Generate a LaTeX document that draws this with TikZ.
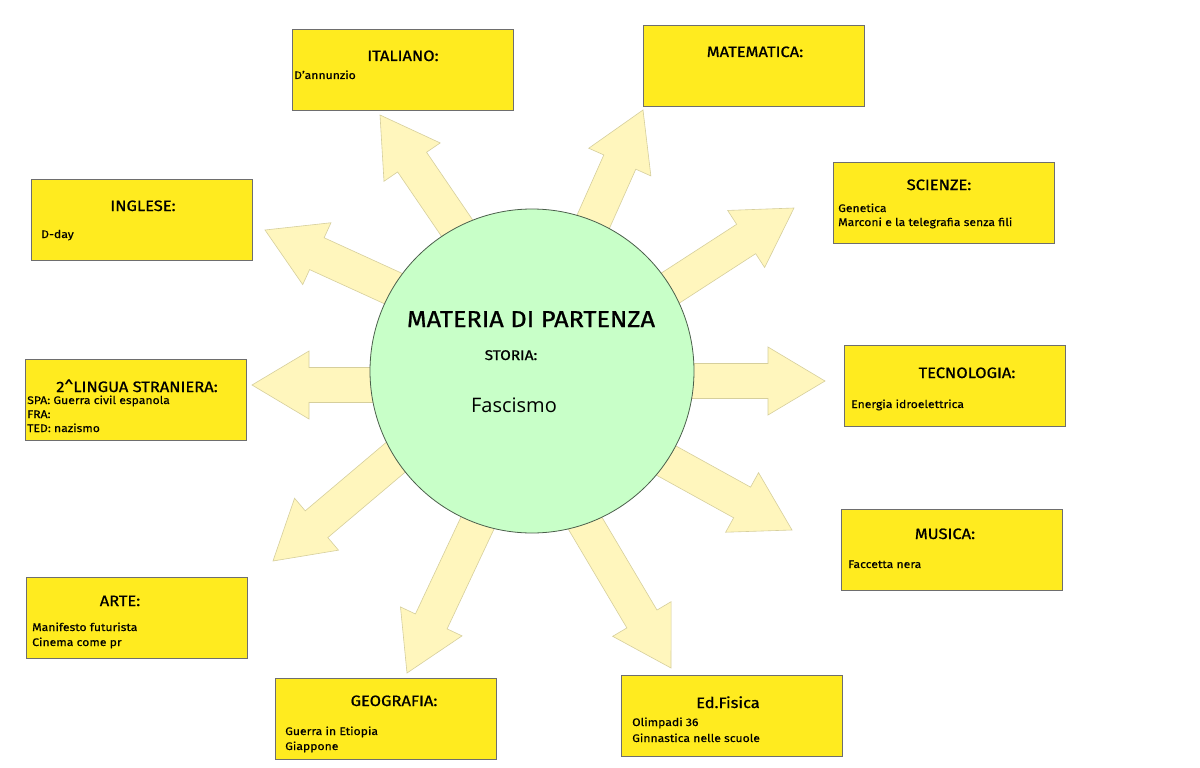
\documentclass[tikz,border=0pt]{standalone}
\usepackage{fontspec}
\setmainfont{Fira Sans}[FakeStretch=1.12, FakeBold=0.35]
\newfontfamily\titlefont{Fira Sans}[FakeStretch=1.1, FakeBold=0.9]
\newfontfamily\fascfont{Open Sans}
\usetikzlibrary{calc}
\definecolor{boxyellow}{HTML}{FFEB1F}
\definecolor{boxline}{HTML}{6E6E6E}
\definecolor{arrfill}{HTML}{FFF6BD}
\definecolor{arrline}{HTML}{D6CF9C}
\definecolor{circfill}{HTML}{C8FFC8}
\definecolor{circline}{HTML}{4A5E4A}
\tikzset{
  subjbox/.style={draw=boxline, line width=0.8pt, fill=boxyellow, minimum width=221pt, minimum height=81pt, anchor=north west, inner sep=0pt},
  titletxt/.style={font=\titlefont\fontsize{15}{17}\selectfont, anchor=base, inner sep=0pt},
  bodytxt/.style={font=\fontsize{10.9}{12}\selectfont, anchor=base west, inner sep=0pt},
  arrshape/.style={fill=arrfill, draw=arrline, line width=0.6pt, line join=miter},
}
\newcommand\blockarr[2]{%
  \coordinate (#1s) at ($(#1)!-30pt!(#2)$);
  \coordinate (#1h) at ($(#2)!57pt!(#1)$);
  \path[arrshape] ($(#1s)!17.5pt!90:(#2)$) -- ($(#1h)!17.5pt!90:(#2)$) -- ($(#1h)!34pt!90:(#2)$) -- (#2)
    -- ($(#1h)!34pt!-90:(#2)$) -- ($(#1h)!17.5pt!-90:(#2)$) -- ($(#1s)!17.5pt!-90:(#2)$) -- cycle;
}
\begin{document}
\begin{tikzpicture}[x=1pt,y=-1pt]
\useasboundingbox[fill=white] (0,0) rectangle (1200,768);

% arrow bases and tips
\coordinate (bIta) at (457,228); \coordinate (tIta) at (380,115);
\coordinate (bMat) at (594,220); \coordinate (tMat) at (643,110);
\coordinate (bSci) at (672,287); \coordinate (tSci) at (794,208);
\coordinate (bTec) at (692,381); \coordinate (tTec) at (825,381);
\coordinate (bMus) at (667,461); \coordinate (tMus) at (792,530);
\coordinate (bEdf) at (585,523); \coordinate (tEdf) at (671,668);
\coordinate (bGeo) at (478,522); \coordinate (tGeo) at (407,673);
\coordinate (bArt) at (396,457); \coordinate (tArt) at (273,561);
\coordinate (bLin) at (373,385); \coordinate (tLin) at (252,385);
\coordinate (bIng) at (392,288); \coordinate (tIng) at (265,230);

\blockarr{bIta}{tIta}
\blockarr{bMat}{tMat}
\blockarr{bSci}{tSci}
\blockarr{bTec}{tTec}
\blockarr{bMus}{tMus}
\blockarr{bEdf}{tEdf}
\blockarr{bGeo}{tGeo}
\blockarr{bArt}{tArt}
\blockarr{bLin}{tLin}
\blockarr{bIng}{tIng}

% central circle
\node[circle, draw=circline, line width=0.8pt, fill=circfill, minimum size=324pt, inner sep=0pt] (c) at (532,371) {};
\node[font=\titlefont\fontsize{23}{27}\selectfont, anchor=base, inner sep=0pt] (mat) at (531,327) {MATERIA DI PARTENZA};
\node[font=\titlefont\fontsize{14}{17}\selectfont, anchor=base, inner sep=0pt] (sto) at (511,360) {STORIA:};
\node[font=\fascfont\fontsize{20}{23}\selectfont, anchor=base, inner sep=0pt] (fas) at (514,412) {Fascismo};

% boxes
\node[subjbox] (ita) at (292,29) {};
\node[titletxt] (itaT) at (403,61) {ITALIANO:};
\node[bodytxt] (itaB) at (294,79) {D'annunzio};

\node[subjbox] (mtm) at (643,25) {};
\node[titletxt] (mtmT) at (755,57) {MATEMATICA:};

\node[subjbox] (sci) at (833,162) {};
\node[titletxt] (sciT) at (939,190) {SCIENZE:};
\node[bodytxt] (sciB1) at (838,212) {Genetica};
\node[bodytxt] (sciB2) at (838,226) {Marconi e la telegrafia senza fili};

\node[subjbox] (tec) at (844,345) {};
\node[titletxt] (tecT) at (967,378) {TECNOLOGIA:};
\node[bodytxt] (tecB) at (851,408) {Energia idroelettrica};

\node[subjbox] (mus) at (841,509) {};
\node[titletxt] (musT) at (945,539) {MUSICA:};
\node[bodytxt] (musB) at (848,568) {Faccetta nera};

\node[subjbox] (edf) at (621,675) {};
\node[titletxt] (edfT) at (728,708) {Ed.Fisica};
\node[bodytxt] (edfB1) at (632,726) {Olimpadi 36};
\node[bodytxt] (edfB2) at (632,742) {Ginnastica nelle scuole};

\node[subjbox] (geo) at (275,678) {};
\node[titletxt] (geoT) at (394,706) {GEOGRAFIA:};
\node[bodytxt] (geoB1) at (285,735) {Guerra in Etiopia};
\node[bodytxt] (geoB2) at (285,750) {Giappone};

\node[subjbox] (art) at (26,577) {};
\node[titletxt] (artT) at (120,606) {ARTE:};
\node[bodytxt] (artB1) at (32,631) {Manifesto futurista};
\node[bodytxt] (artB2) at (32,646) {Cinema come pr};

\node[subjbox] (lin) at (25,359) {};
\node[titletxt] (linT) at (137,392) {2\^{}LINGUA STRANIERA:};
\node[bodytxt] (linB1) at (27,404) {SPA: Guerra civil espanola};
\node[bodytxt] (linB2) at (27,418) {FRA:};
\node[bodytxt] (linB3) at (27,432) {TED: nazismo};

\node[subjbox] (ing) at (31,179) {};
\node[titletxt] (ingT) at (143,211) {INGLESE:};
\node[bodytxt] (ingB) at (41,238) {D-day};
\end{tikzpicture}
\end{document}
